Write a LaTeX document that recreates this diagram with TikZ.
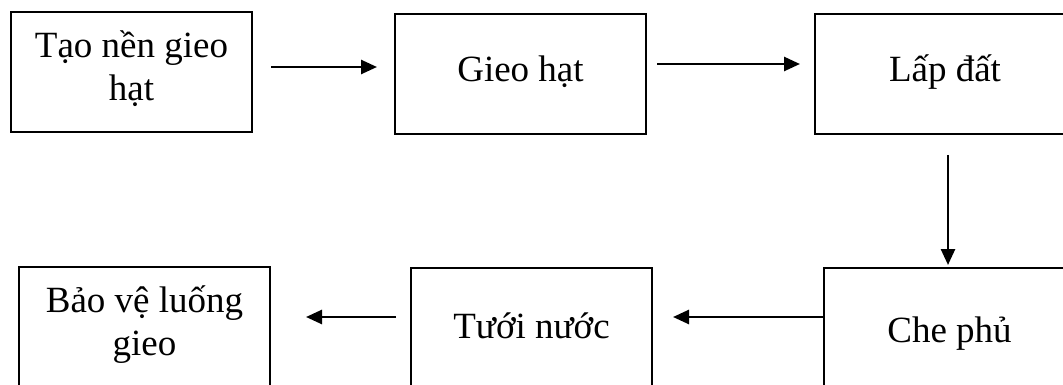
\documentclass[tikz,border=0pt]{standalone}
\usepackage{fontspec}
\setmainfont{Liberation Serif}
\usetikzlibrary{arrows.meta}
\begin{document}
\begin{tikzpicture}[x=1pt,y=-1pt,
  box/.style={draw, line width=1.6pt, inner sep=0pt, outer sep=0pt},
  lbl/.style={anchor=base, inner sep=0pt, font=\fontsize{37}{43}\selectfont},
  arr/.style={line width=2.6pt, -{Triangle[length=16pt,width=14pt]}}]
\useasboundingbox (0,0) rectangle (1063,385);
\clip (0,0) rectangle (1063,385);
% boxes
\node[box, minimum width=241pt, minimum height=120pt] (b1) at (131.5,72) {};
\node[box, minimum width=251pt, minimum height=120pt] (b2) at (520.5,74) {};
\node[box, minimum width=260pt, minimum height=120pt] (b3) at (945,74) {};
\node[box, minimum width=251pt, minimum height=134pt] (b4) at (949.5,335) {};
\node[box, minimum width=241pt, minimum height=134pt] (b5) at (531.5,335) {};
\node[box, minimum width=251pt, minimum height=134pt] (b6) at (144.5,334) {};
% labels
\node[lbl] (t1a) at (131.5,58) {Tạo nền gieo};
\node[lbl] (t1b) at (131.5,101) {hạt};
\node[lbl] (t2) at (520.5,82) {Gieo hạt};
\node[lbl] (t3) at (945,82) {Lấp đất};
\node[lbl] (t4) at (949.5,342) {Che phủ};
\node[lbl] (t5) at (531.5,338) {Tưới nước};
\node[lbl] (t6a) at (144.5,312) {Bảo vệ luống};
\node[lbl] (t6b) at (144.5,355) {gieo};
% arrow end points
\coordinate (a1s) at (271,67);
\coordinate (a1e) at (377,67);
\coordinate (a2s) at (657,64);
\coordinate (a2e) at (800,64);
\coordinate (a3s) at (948,155);
\coordinate (a3e) at (948,265);
\coordinate (a4e) at (673,317);
\coordinate (a5s) at (396,317);
\coordinate (a5e) at (306,317);
% connectors
\draw[arr] (a1s) -- (a1e);
\draw[arr] (a2s) -- (a2e);
\draw[arr] (a3s) -- (a3e);
\draw[arr] (b4.west |- a4e) -- (a4e);
\draw[arr] (a5s) -- (a5e);
\end{tikzpicture}
\end{document}
